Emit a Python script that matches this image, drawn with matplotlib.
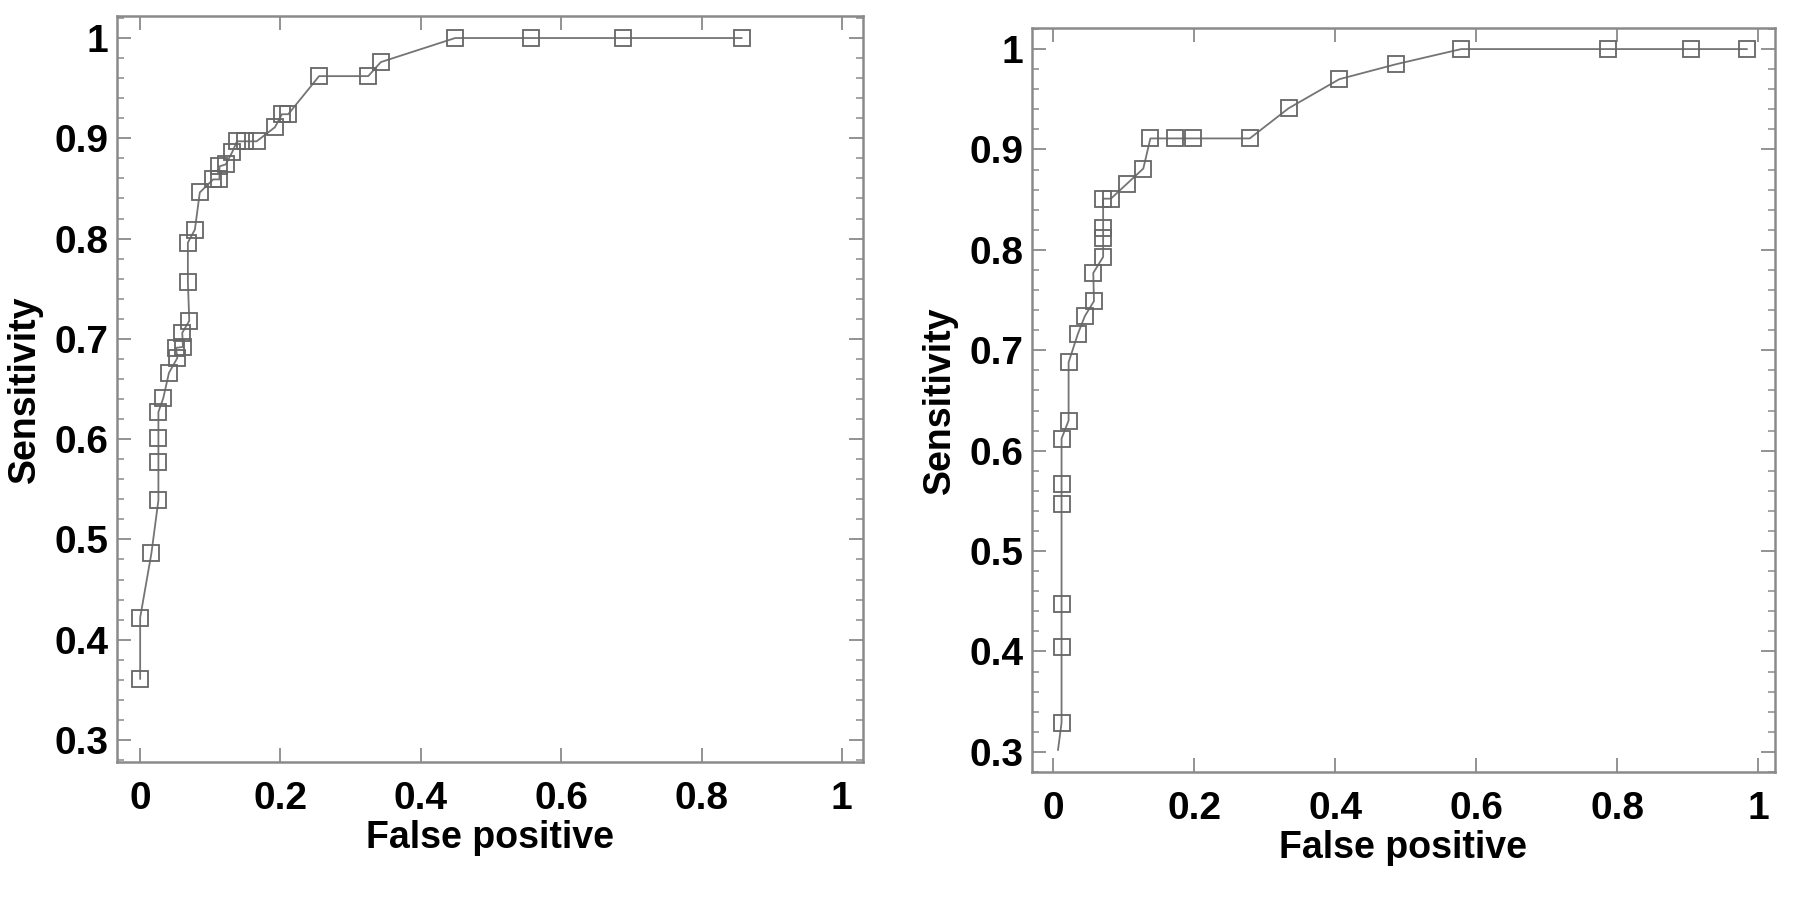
import numpy as np
import matplotlib
matplotlib.use("Agg")
import matplotlib.pyplot as plt
from matplotlib.ticker import MultipleLocator, FuncFormatter

plt.rcParams["font.family"] = ["Liberation Sans", "DejaVu Sans"]
plt.rcParams["font.weight"] = "bold"

# left ROC curve
fp_left = [0.0, 0.0, 0.016, 0.026, 0.026, 0.026, 0.026, 0.033, 0.041, 0.053,
           0.051, 0.061, 0.060, 0.070, 0.068, 0.068, 0.078, 0.085, 0.104, 0.113,
           0.113, 0.122, 0.131, 0.138, 0.150, 0.166, 0.192, 0.202, 0.211, 0.255,
           0.325, 0.343, 0.449, 0.557, 0.688, 0.857]
sens_left = [0.361, 0.422, 0.486, 0.539, 0.577, 0.601, 0.627, 0.641, 0.666, 0.681,
             0.691, 0.692, 0.706, 0.718, 0.757, 0.796, 0.809, 0.846, 0.859, 0.859,
             0.872, 0.874, 0.886, 0.897, 0.897, 0.897, 0.911, 0.924, 0.924, 0.962,
             0.962, 0.976, 1.0, 1.0, 1.0, 1.0]

# right ROC curve (first point is where the line starts, no marker)
fp_right = [0.007, 0.012, 0.012, 0.012, 0.012, 0.012, 0.012, 0.022, 0.022, 0.035,
            0.045, 0.058, 0.057, 0.071, 0.071, 0.071, 0.071, 0.082, 0.105, 0.128,
            0.138, 0.173, 0.199, 0.279, 0.334, 0.406, 0.487, 0.579, 0.787, 0.905,
            0.984]
sens_right = [0.302, 0.329, 0.404, 0.447, 0.547, 0.567, 0.612, 0.630, 0.688, 0.716,
              0.734, 0.749, 0.777, 0.793, 0.812, 0.822, 0.851, 0.851, 0.866, 0.881,
              0.911, 0.911, 0.911, 0.911, 0.941, 0.970, 0.985, 1.0, 1.0, 1.0,
              1.0]

x_ticks = [0, 0.2, 0.4, 0.6, 0.8, 1]
y_ticks = [0.3, 0.4, 0.5, 0.6, 0.7, 0.8, 0.9, 1]

fig = plt.figure(figsize=(18, 8.97), dpi=100)
ax1 = fig.add_axes([0.065, 0.1505, 0.4144, 0.8317])
ax2 = fig.add_axes([0.5733, 0.1394, 0.4128, 0.8294])

fmt = FuncFormatter(lambda v, p: f"{v:g}")
spine_col = "#8a8a8a"

panels = [
    (ax1, fp_left, sens_left, None, (-0.033, 1.03), (0.278, 1.022)),
    (ax2, fp_right, sens_right, range(1, len(fp_right)), (-0.03, 1.024), (0.28, 1.021)),
]

for ax, xs, ys, mev, xl, yl in panels:
    ax.plot(xs, ys, color="#747474", lw=1.3, marker="s", ms=11,
            mfc="none", mec="#666666", mew=1.3, markevery=mev)
    ax.set_xlim(*xl)
    ax.set_ylim(*yl)
    ax.set_xticks(x_ticks)
    ax.set_yticks(y_ticks)
    ax.yaxis.set_minor_locator(MultipleLocator(0.02))
    ax.xaxis.set_major_formatter(fmt)
    ax.yaxis.set_major_formatter(fmt)
    ax.tick_params(axis="both", which="both", direction="in", colors=spine_col,
                   labelcolor="black", top=True, right=True, labelsize=28)
    ax.tick_params(axis="both", which="major", length=10, width=1.3)
    ax.tick_params(axis="y", which="minor", length=5, width=1.1)
    ax.tick_params(axis="x", pad=14)
    ax.tick_params(axis="y", pad=6)
    for s in ax.spines.values():
        s.set_color(spine_col)
        s.set_linewidth(1.8)
    for lab in ax.get_xticklabels() + ax.get_yticklabels():
        lab.set_fontweight("bold")
    ax.set_xlabel("False positive", fontsize=27, fontweight="bold", labelpad=2)
    ax.set_ylabel("Sensitivity", fontsize=27, fontweight="bold", labelpad=8)

fig.savefig("out.png", dpi=100, facecolor="white")
